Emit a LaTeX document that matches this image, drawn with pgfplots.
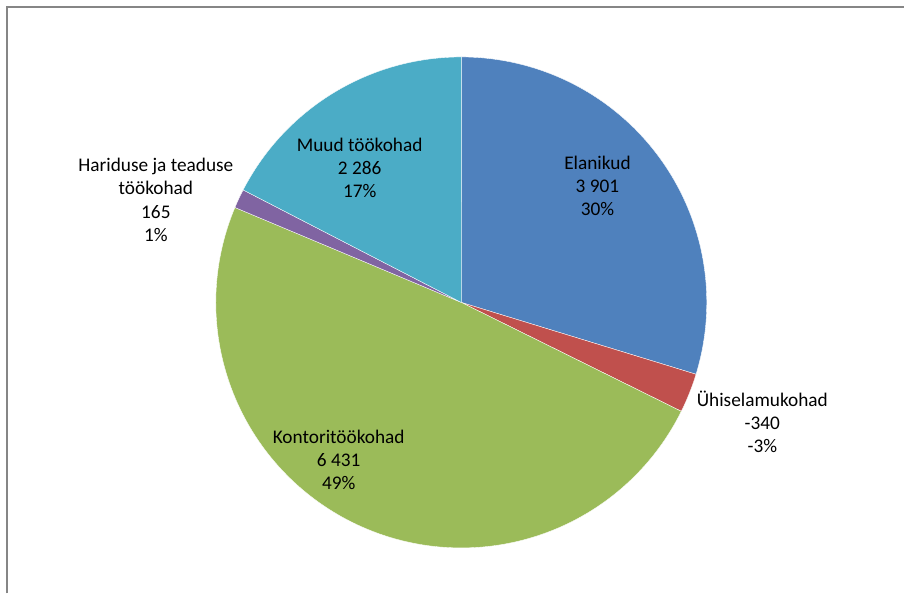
\documentclass[border=0pt]{standalone}
\usepackage{fontspec}
\setmainfont{Carlito}
\usepackage{pgfplots}
\usepackage{pgfplotstable}
\pgfplotsset{compat=1.18}
\definecolor{cA}{HTML}{4F81BD}
\definecolor{cB}{HTML}{C0504D}
\definecolor{cC}{HTML}{9BBB59}
\definecolor{cD}{HTML}{8064A2}
\definecolor{cE}{HTML}{4BACC6}
\definecolor{frame}{HTML}{868686}
\pgfplotstableread{
name value
Elanikud 3901
Yhiselamukohad -340
Kontoritookohad 6431
Haridus 165
Muud 2286
}\piedata
\begin{document}
\begin{tikzpicture}
\pgfplotstablegetelem{0}{value}\of\piedata \pgfmathsetmacro\vA{abs(\pgfplotsretval)/1000}
\pgfplotstablegetelem{1}{value}\of\piedata \pgfmathsetmacro\vB{abs(\pgfplotsretval)/1000}
\pgfplotstablegetelem{2}{value}\of\piedata \pgfmathsetmacro\vC{abs(\pgfplotsretval)/1000}
\pgfplotstablegetelem{3}{value}\of\piedata \pgfmathsetmacro\vD{abs(\pgfplotsretval)/1000}
\pgfplotstablegetelem{4}{value}\of\piedata \pgfmathsetmacro\vE{abs(\pgfplotsretval)/1000}
\pgfmathsetmacro\tot{\vA+\vB+\vC+\vD+\vE}
\pgfmathsetmacro\aA{90}
\pgfmathsetmacro\aB{\aA-360*(\vA/\tot)}
\pgfmathsetmacro\aC{\aB-360*(\vB/\tot)}
\pgfmathsetmacro\aD{\aC-360*(\vC/\tot)}
\pgfmathsetmacro\aE{\aD-360*(\vD/\tot)}
\pgfmathsetmacro\aF{\aE-360*(\vE/\tot)}
\begin{axis}[
  scale only axis, width=905pt, height=594pt,
  xmin=0, xmax=905, ymin=0, ymax=594,
  hide axis, clip=false,
]
\def\cx{461.7}
\def\cy{291.3}
\def\R{245.7}
\addplot[fill=cA, draw=white, line width=0.35pt, domain=\aB:\aA, samples=90, variable=\t] ({\cx+\R*cos(\t)}, {\cy+\R*sin(\t)}) -- (axis cs:\cx,\cy) -- cycle;
\addplot[fill=cB, draw=white, line width=0.35pt, domain=\aC:\aB, samples=20, variable=\t] ({\cx+\R*cos(\t)}, {\cy+\R*sin(\t)}) -- (axis cs:\cx,\cy) -- cycle;
\addplot[fill=cC, draw=white, line width=0.35pt, domain=\aD:\aC, samples=140, variable=\t] ({\cx+\R*cos(\t)}, {\cy+\R*sin(\t)}) -- (axis cs:\cx,\cy) -- cycle;
\addplot[fill=cD, draw=white, line width=0.35pt, domain=\aE:\aD, samples=10, variable=\t] ({\cx+\R*cos(\t)}, {\cy+\R*sin(\t)}) -- (axis cs:\cx,\cy) -- cycle;
\addplot[fill=cE, draw=white, line width=0.35pt, domain=\aF:\aE, samples=60, variable=\t] ({\cx+\R*cos(\t)}, {\cy+\R*sin(\t)}) -- (axis cs:\cx,\cy) -- cycle;
\draw[frame, line width=1.6pt] (axis cs:7,0) -- (axis cs:7,587) -- (axis cs:905,587);
\path (axis cs:0,0) rectangle (axis cs:905,594);
\begin{scope}[every node/.style={align=center, font=\fontsize{19.3}{23.2}\selectfont, inner sep=0pt}]
\node at (axis cs:598,408) {Elanikud\\3 901\\30\%};
\node at (axis cs:763,172) {Ühiselamukohad\\-340\\-3\%};
\node at (axis cs:339,134) {Kontoritöökohad\\6 431\\49\%};
\node at (axis cs:156,394) {Hariduse ja teaduse\\töökohad\\165\\1\%};
\node at (axis cs:360,426) {Muud töökohad\\2 286\\17\%};
\end{scope}
\end{axis}
\end{tikzpicture}
\end{document}
